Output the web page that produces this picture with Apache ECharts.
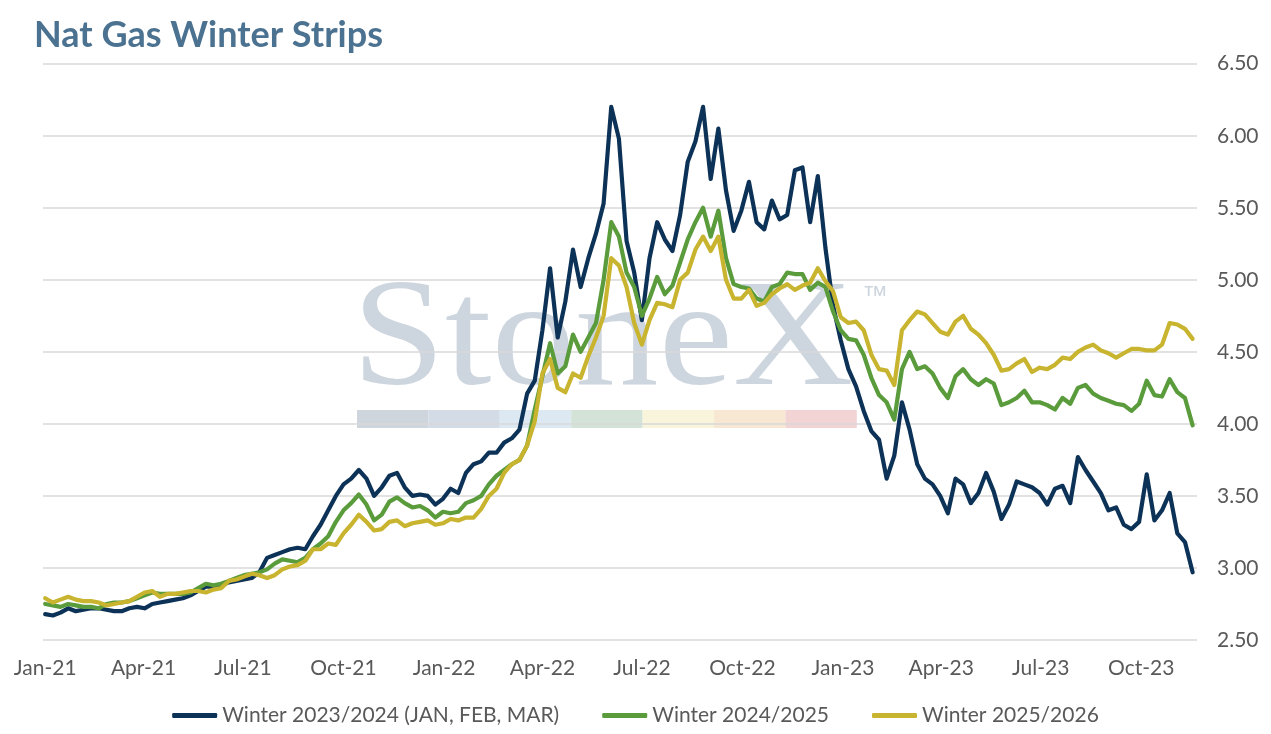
<!DOCTYPE html>
<html>
<head>
<meta charset="utf-8">
<script src="https://cdn.jsdelivr.net/npm/echarts@6/dist/echarts.min.js"></script>
<style>
html,body{margin:0;padding:0;background:#fff;}
#chart{width:1271px;height:734px;}
</style>
</head>
<body>
<div id="chart"></div>
<script>
// ---- data (weekly readings, Fridays starting 2021-01-01) ----
var firstWeek = '2021-01-01';
var seriesNames = ['Winter 2023/2024 (JAN, FEB, MAR)', 'Winter 2024/2025', 'Winter 2025/2026'];
var winter2324 = [
2.68,2.67,2.69,2.72,2.70,2.71,2.72,2.72,2.71,2.70,
2.70,2.72,2.73,2.72,2.75,2.76,2.77,2.78,2.79,2.81,
2.84,2.87,2.87,2.88,2.90,2.91,2.92,2.93,2.97,3.07,
3.09,3.11,3.13,3.14,3.13,3.22,3.30,3.40,3.50,3.58,
3.62,3.68,3.62,3.50,3.56,3.64,3.66,3.56,3.50,3.51,
3.50,3.44,3.48,3.55,3.52,3.66,3.72,3.74,3.80,3.80,
3.87,3.90,3.96,4.21,4.30,4.65,5.08,4.60,4.85,5.21,
4.95,5.15,5.32,5.53,6.20,5.98,5.27,5.05,4.72,5.15,
5.40,5.28,5.20,5.45,5.82,5.96,6.20,5.70,6.05,5.62,
5.34,5.48,5.68,5.40,5.35,5.55,5.42,5.45,5.76,5.78,
5.40,5.72,5.22,4.82,4.58,4.38,4.26,4.09,3.95,3.89,
3.62,3.78,4.15,3.96,3.72,3.62,3.58,3.50,3.38,3.62,
3.58,3.45,3.52,3.66,3.53,3.34,3.44,3.60,3.58,3.56,
3.52,3.44,3.55,3.57,3.45,3.77,3.68,3.60,3.52,3.40,
3.42,3.30,3.27,3.32,3.65,3.33,3.40,3.52,3.24,3.18,
2.97];
var winter2425 = [
2.75,2.74,2.73,2.75,2.74,2.73,2.73,2.72,2.75,2.76,
2.76,2.77,2.79,2.81,2.83,2.82,2.82,2.82,2.82,2.83,
2.86,2.89,2.88,2.89,2.91,2.93,2.95,2.96,2.97,2.99,
3.03,3.06,3.05,3.04,3.07,3.13,3.17,3.22,3.32,3.40,
3.45,3.51,3.44,3.33,3.37,3.46,3.49,3.45,3.42,3.43,
3.40,3.35,3.39,3.38,3.39,3.45,3.47,3.50,3.58,3.64,
3.68,3.72,3.75,3.85,4.10,4.33,4.56,4.35,4.40,4.62,
4.50,4.60,4.70,5.00,5.40,5.30,5.05,4.95,4.75,4.87,
5.02,4.90,4.96,5.12,5.28,5.40,5.50,5.30,5.48,5.15,
4.97,4.95,4.94,4.87,4.85,4.95,4.97,5.05,5.04,5.04,
4.93,4.98,4.95,4.78,4.65,4.59,4.58,4.48,4.32,4.20,
4.15,4.03,4.38,4.50,4.38,4.40,4.35,4.25,4.18,4.33,
4.38,4.31,4.27,4.31,4.28,4.13,4.15,4.18,4.23,4.15,
4.15,4.13,4.10,4.18,4.14,4.25,4.27,4.21,4.18,4.16,
4.14,4.13,4.09,4.14,4.30,4.20,4.19,4.31,4.22,4.18,
3.99];
var winter2526 = [
2.79,2.76,2.78,2.80,2.78,2.77,2.77,2.76,2.74,2.75,
2.76,2.77,2.80,2.83,2.84,2.80,2.82,2.82,2.83,2.84,
2.84,2.83,2.85,2.86,2.91,2.92,2.94,2.96,2.95,2.93,
2.95,2.99,3.01,3.02,3.05,3.13,3.13,3.17,3.16,3.24,
3.30,3.37,3.32,3.26,3.27,3.32,3.33,3.29,3.31,3.32,
3.33,3.30,3.31,3.34,3.33,3.35,3.35,3.41,3.50,3.55,
3.66,3.72,3.75,3.85,4.02,4.35,4.45,4.25,4.22,4.35,
4.32,4.47,4.60,4.75,5.15,5.10,4.95,4.70,4.55,4.72,
4.84,4.83,4.81,5.00,5.05,5.21,5.30,5.20,5.30,5.00,
4.87,4.87,4.93,4.82,4.84,4.90,4.94,4.97,4.93,4.96,
4.98,5.08,4.99,4.92,4.74,4.70,4.71,4.65,4.48,4.38,
4.37,4.27,4.65,4.72,4.78,4.76,4.70,4.64,4.62,4.71,
4.75,4.66,4.62,4.56,4.48,4.37,4.38,4.42,4.45,4.36,
4.39,4.38,4.41,4.46,4.45,4.50,4.53,4.55,4.51,4.49,
4.46,4.49,4.52,4.52,4.51,4.51,4.55,4.70,4.69,4.66,
4.59];
var tickDates = ['2021-01-01','2021-04-01','2021-07-01','2021-10-01','2022-01-01','2022-04-01',
                 '2022-07-01','2022-10-01','2023-01-01','2023-04-01','2023-07-01','2023-10-01'];
var tickLabels = ['Jan-21','Apr-21','Jul-21','Oct-21','Jan-22','Apr-22',
                  'Jul-22','Oct-22','Jan-23','Apr-23','Jul-23','Oct-23'];
var yTicks = [2.5, 6.5, 0.5]; // min, max, interval
var colors = ['#0d3257', '#5a9b3c', '#c8b42e'];

// ---- build ----
function ts(s){ var p = s.split('-'); return Date.UTC(+p[0], +p[1]-1, +p[2]); }
var DAY = 86400000;
function pairs(vals){
  var t0 = ts(firstWeek);
  return vals.map(function(v, i){ return [t0 + i*7*DAY, v]; });
}
var tickTs = tickDates.map(ts);
var labelMap = {};
tickTs.forEach(function(t, i){ labelMap[t] = tickLabels[i]; });

var txt = '#595959';
var font = 'Lato';
var chart = echarts.init(document.getElementById('chart'));
var allSeries = [winter2324, winter2425, winter2526].map(function(vals, k){
  return {
    name: seriesNames[k], type: 'line', data: pairs(vals),
    showSymbol: false, symbol: 'none', smooth: false,
    lineStyle: {width: 4.2, color: colors[k], cap: 'round', join: 'round'},
    itemStyle: {color: colors[k]},
    animation: false, z: 3 + k
  };
});

var wmColor = '#cdd5de';
var barColors = ['#cfd5dc','#d3dce6','#dde9f2','#d3e3d8','#f8f5dc','#f8e7d2','#f2d4d4'];
var graphicEls = [
  {type:'text', x: 352, y: 268, scaleX: 1.1, z: -10, silent: true,
   style:{text:'StoneX', font:'152px "Liberation Serif", "DejaVu Serif", serif', fill: wmColor}},
  {type:'text', x: 862, y: 284, z: -10, silent: true,
   style:{text:'\u2122', font:'26px "Liberation Sans", sans-serif', fill: wmColor}}
];
barColors.forEach(function(c, i){
  graphicEls.push({type:'rect', x: 357 + i*71.4, y: 410, z: -10, silent: true,
    shape:{width: 71.4, height: 18}, style:{fill: c}});
});

chart.setOption({
  backgroundColor: '#ffffff',
  animation: false,
  color: colors,
  title: {
    text: 'Nat Gas Winter Strips', left: 29, top: 12,
    textStyle: {fontFamily: font, fontWeight: 'bold', fontSize: 36, color: '#4b7290'}
  },
  graphic: {elements: graphicEls},
  grid: {left: 43, right: 74, top: 63.7, bottom: 94, containLabel: false},
  legend: {
    bottom: 3, left: 'center', itemGap: 43, itemWidth: 45, itemHeight: 5,
    icon: 'roundRect',
    textStyle: {fontFamily: font, fontSize: 21, color: txt},
    data: seriesNames
  },
  xAxis: {
    type: 'value',
    min: ts('2020-12-30'), max: ts('2023-11-21'),
    axisLine: {show: false}, axisTick: {show: false},
    splitLine: {show: false},
    axisLabel: {
      customValues: tickTs,
      formatter: function(v){ return labelMap[v] || ''; },
      color: txt, fontFamily: font, fontSize: 21, margin: 18
    }
  },
  yAxis: {
    type: 'value', position: 'right',
    min: yTicks[0], max: yTicks[1], interval: yTicks[2],
    axisLine: {show: false}, axisTick: {show: false},
    splitLine: {lineStyle: {color: '#d9d9d9', width: 1.5}},
    axisLabel: {
      formatter: function(v){ return v.toFixed(2); },
      color: txt, fontFamily: font, fontSize: 21, margin: 20
    }
  },
  series: allSeries
});
</script>
</body>
</html>
